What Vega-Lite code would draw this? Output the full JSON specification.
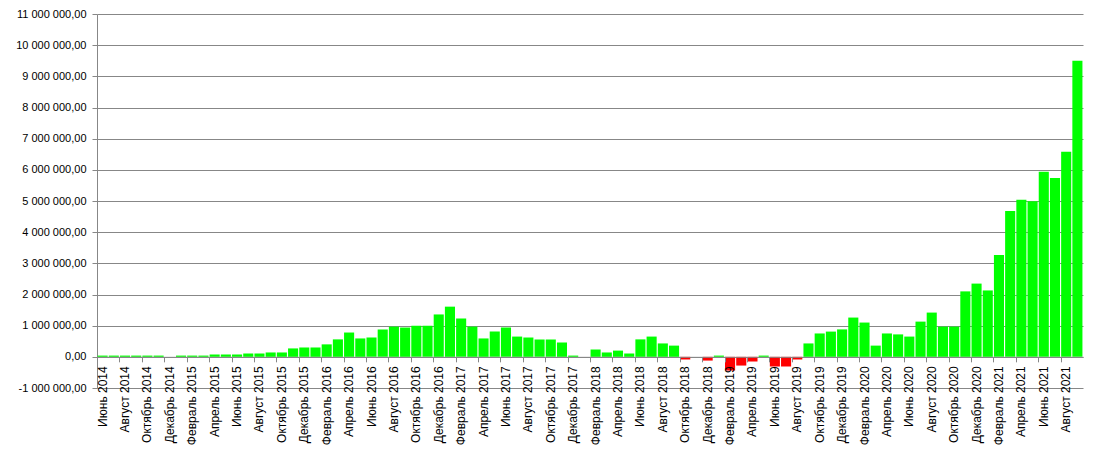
{
  "$schema": "https://vega.github.io/schema/vega-lite/v6.json",
  "width": 986,
  "height": 374,
  "autosize": {"type": "none"},
  "padding": {"left": 97, "top": 14, "right": 14, "bottom": 65},
  "background": "white",
  "config": {"view": {"stroke": null}},
  "data": {"values": [
    {"month": "Июнь 2014", "value": 40000},
    {"month": "Июль 2014", "value": 40000},
    {"month": "Август 2014", "value": 40000},
    {"month": "Сентябрь 2014", "value": 40000},
    {"month": "Октябрь 2014", "value": 40000},
    {"month": "Ноябрь 2014", "value": 40000},
    {"month": "Декабрь 2014", "value": 0},
    {"month": "Январь 2015", "value": 40000},
    {"month": "Февраль 2015", "value": 40000},
    {"month": "Март 2015", "value": 40000},
    {"month": "Апрель 2015", "value": 75000},
    {"month": "Май 2015", "value": 75000},
    {"month": "Июнь 2015", "value": 75000},
    {"month": "Июль 2015", "value": 107000},
    {"month": "Август 2015", "value": 107000},
    {"month": "Сентябрь 2015", "value": 140000},
    {"month": "Октябрь 2015", "value": 140000},
    {"month": "Ноябрь 2015", "value": 270000},
    {"month": "Декабрь 2015", "value": 300000},
    {"month": "Январь 2016", "value": 300000},
    {"month": "Февраль 2016", "value": 400000},
    {"month": "Март 2016", "value": 560000},
    {"month": "Апрель 2016", "value": 780000},
    {"month": "Май 2016", "value": 590000},
    {"month": "Июнь 2016", "value": 620000},
    {"month": "Июль 2016", "value": 880000},
    {"month": "Август 2016", "value": 970000},
    {"month": "Сентябрь 2016", "value": 940000},
    {"month": "Октябрь 2016", "value": 1000000},
    {"month": "Ноябрь 2016", "value": 1000000},
    {"month": "Декабрь 2016", "value": 1360000},
    {"month": "Январь 2017", "value": 1610000},
    {"month": "Февраль 2017", "value": 1230000},
    {"month": "Март 2017", "value": 970000},
    {"month": "Апрель 2017", "value": 590000},
    {"month": "Май 2017", "value": 810000},
    {"month": "Июнь 2017", "value": 940000},
    {"month": "Июль 2017", "value": 650000},
    {"month": "Август 2017", "value": 620000},
    {"month": "Сентябрь 2017", "value": 560000},
    {"month": "Октябрь 2017", "value": 560000},
    {"month": "Ноябрь 2017", "value": 460000},
    {"month": "Декабрь 2017", "value": 40000},
    {"month": "Январь 2018", "value": 0},
    {"month": "Февраль 2018", "value": 235000},
    {"month": "Март 2018", "value": 140000},
    {"month": "Апрель 2018", "value": 200000},
    {"month": "Май 2018", "value": 107000},
    {"month": "Июнь 2018", "value": 560000},
    {"month": "Июль 2018", "value": 650000},
    {"month": "Август 2018", "value": 430000},
    {"month": "Сентябрь 2018", "value": 360000},
    {"month": "Октябрь 2018", "value": -85000},
    {"month": "Ноябрь 2018", "value": 0},
    {"month": "Декабрь 2018", "value": -120000},
    {"month": "Январь 2019", "value": 40000},
    {"month": "Февраль 2019", "value": -440000},
    {"month": "Март 2019", "value": -280000},
    {"month": "Апрель 2019", "value": -150000},
    {"month": "Май 2019", "value": 40000},
    {"month": "Июнь 2019", "value": -310000},
    {"month": "Июль 2019", "value": -310000},
    {"month": "Август 2019", "value": -85000},
    {"month": "Сентябрь 2019", "value": 430000},
    {"month": "Октябрь 2019", "value": 750000},
    {"month": "Ноябрь 2019", "value": 810000},
    {"month": "Декабрь 2019", "value": 880000},
    {"month": "Январь 2020", "value": 1260000},
    {"month": "Февраль 2020", "value": 1100000},
    {"month": "Март 2020", "value": 360000},
    {"month": "Апрель 2020", "value": 750000},
    {"month": "Май 2020", "value": 720000},
    {"month": "Июнь 2020", "value": 650000},
    {"month": "Июль 2020", "value": 1130000},
    {"month": "Август 2020", "value": 1420000},
    {"month": "Сентябрь 2020", "value": 970000},
    {"month": "Октябрь 2020", "value": 970000},
    {"month": "Ноябрь 2020", "value": 2100000},
    {"month": "Декабрь 2020", "value": 2350000},
    {"month": "Январь 2021", "value": 2130000},
    {"month": "Февраль 2021", "value": 3270000},
    {"month": "Март 2021", "value": 4680000},
    {"month": "Апрель 2021", "value": 5040000},
    {"month": "Май 2021", "value": 4990000},
    {"month": "Июнь 2021", "value": 5940000},
    {"month": "Июль 2021", "value": 5740000},
    {"month": "Август 2021", "value": 6580000},
    {"month": "Сентябрь 2021", "value": 9500000}
  ]},
  "mark": {"type": "bar"},
  "encoding": {
    "x": {
      "field": "month",
      "type": "nominal",
      "sort": null,
      "scale": {"paddingInner": 0.1, "paddingOuter": 0.05},
      "axis": {
        "title": null,
        "values": ["Июнь 2014", "Август 2014", "Октябрь 2014", "Декабрь 2014", "Февраль 2015", "Апрель 2015", "Июнь 2015", "Август 2015", "Октябрь 2015", "Декабрь 2015", "Февраль 2016", "Апрель 2016", "Июнь 2016", "Август 2016", "Октябрь 2016", "Декабрь 2016", "Февраль 2017", "Апрель 2017", "Июнь 2017", "Август 2017", "Октябрь 2017", "Декабрь 2017", "Февраль 2018", "Апрель 2018", "Июнь 2018", "Август 2018", "Октябрь 2018", "Декабрь 2018", "Февраль 2019", "Апрель 2019", "Июнь 2019", "Август 2019", "Октябрь 2019", "Декабрь 2019", "Февраль 2020", "Апрель 2020", "Июнь 2020", "Август 2020", "Октябрь 2020", "Декабрь 2020", "Февраль 2021", "Апрель 2021", "Июнь 2021", "Август 2021"],
        "bandPosition": 0,
        "labelAngle": -90,
        "offset": -31.17,
        "zindex": 1,
        "grid": false,
        "domainColor": "#878787",
        "tickColor": "#878787",
        "tickSize": 5,
        "labelPadding": 4,
        "labelFont": "Liberation Sans",
        "labelFontSize": 12,
        "labelColor": "#000000",
        "labelOverlap": false
      }
    },
    "y": {
      "field": "value",
      "type": "quantitative",
      "scale": {"domain": [-1000000, 11000000], "nice": false, "zero": false},
      "axis": {
        "title": null,
        "values": [-1000000, 0, 1000000, 2000000, 3000000, 4000000, 5000000, 6000000, 7000000, 8000000, 9000000, 10000000, 11000000],
        "labelExpr": "replace(replace(replace(format(datum.value, ',.2f'), regexp(',', 'g'), ' '), '.', ','), '\u2212', '-')",
        "grid": true,
        "gridColor": "#878787",
        "gridOpacity": 1,
        "domainColor": "#878787",
        "tickColor": "#878787",
        "tickSize": 5,
        "labelPadding": 6,
        "labelFont": "Liberation Sans",
        "labelFontSize": 11,
        "labelColor": "#000000"
      }
    },
    "color": {
      "condition": {"test": "datum.value < 0", "value": "#ff0000"},
      "value": "#00ff00"
    }
  }
}
